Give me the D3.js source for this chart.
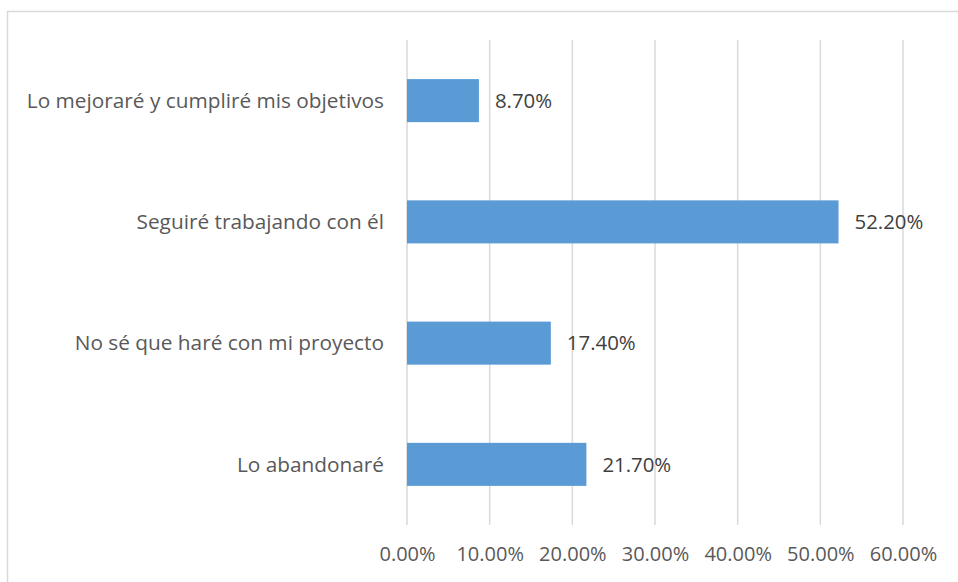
<!DOCTYPE html>
<html>
<head>
<meta charset="utf-8">
<script src="https://cdn.jsdelivr.net/npm/d3@7"></script>
<style>
  body { margin: 0; background: #fff; }
  text { font-family: "Open Sans", "Liberation Sans", sans-serif; }
</style>
</head>
<body>
<div id="canvas"></div>
<script>
const categories = ["Lo mejoraré y cumpliré mis objetivos", "Seguiré trabajando con él", "No sé que haré con mi proyecto", "Lo abandonaré"];
const values = [0.087, 0.522, 0.174, 0.217];
const ticks = [0, 0.1, 0.2, 0.3, 0.4, 0.5, 0.6];

const width = 958;
const height = 582;
const margin = { top: 40, left: 407, bottom: 57, right: 56 };
const iwidth = width - margin.left - margin.right;
const iheight = height - margin.top - margin.bottom;

const svg = d3.select("#canvas").append("svg")
    .attr("width", width)
    .attr("height", height);

// chart border
svg.append("rect")
    .attr("x", 7.5)
    .attr("y", 11.5)
    .attr("width", width + 10)
    .attr("height", height + 10)
    .attr("fill", "none")
    .attr("stroke", "#d9d9d9")
    .attr("stroke-width", 1.5);

const g = svg.append("g").attr("transform", `translate(${margin.left},${margin.top})`);

const x = d3.scaleLinear()
    .domain([0, 0.6])
    .range([0, 496]);

const y = d3.scaleBand()
    .domain(categories)
    .range([0, iheight])
    .padding(0);

const barH = y.bandwidth() * 0.355;

// gridlines
g.selectAll("line.grid").data(ticks)
  .enter().append("line")
    .attr("class", "grid")
    .attr("x1", d => x(d))
    .attr("x2", d => x(d))
    .attr("y1", 0)
    .attr("y2", iheight)
    .attr("stroke", "#d9d9d9")
    .attr("stroke-width", 1.5);

g.selectAll("rect.bar").data(values)
  .enter().append("rect")
    .attr("class", "bar")
    .attr("x", x(0))
    .attr("y", (d, i) => y(categories[i]) + (y.bandwidth() - barH) / 2)
    .attr("width", d => x(d))
    .attr("height", barH)
    .style("fill", "#5b9bd5");

g.selectAll("text.val").data(values)
  .enter().append("text")
    .attr("class", "val")
    .attr("x", d => x(d) + 16)
    .attr("y", (d, i) => y(categories[i]) + y.bandwidth() / 2)
    .attr("dy", "0.35em")
    .attr("fill", "#404040")
    .style("font-size", "20.4px")
    .text(d => (d * 100).toFixed(2) + "%");

// category labels
g.selectAll("text.cat").data(categories)
  .enter().append("text")
    .attr("class", "cat")
    .attr("x", -23)
    .attr("y", d => y(d) + y.bandwidth() / 2)
    .attr("dy", "0.35em")
    .attr("text-anchor", "end")
    .attr("fill", "#595959")
    .style("font-size", "20.8px")
    .text(d => d);

// x axis labels
const xAxis = g.append("g")
    .attr("class", "x--axis")
    .attr("transform", `translate(0, ${iheight})`)
    .call(d3.axisBottom(x).tickValues(ticks).tickFormat(d => (d * 100).toFixed(2) + "%").tickSize(0).tickPadding(22));
xAxis.select(".domain").remove();
xAxis.selectAll("text")
    .attr("fill", "#595959")
    .style("font-size", "20px")
    .style("font-family", "'Open Sans', 'Liberation Sans', sans-serif");
</script>
</body>
</html>
